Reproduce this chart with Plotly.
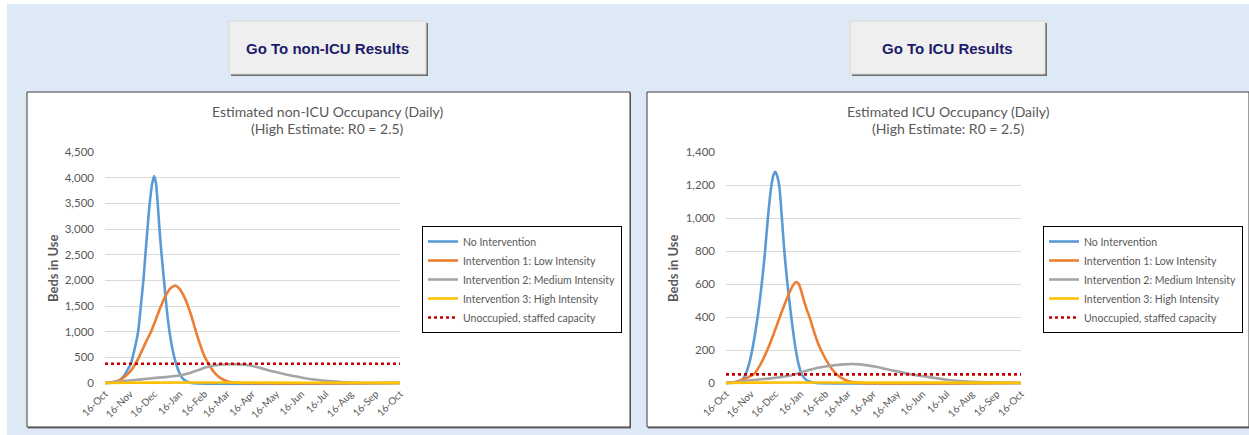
import pandas as pd
import plotly.graph_objects as go

W, H = 1249, 435
START = pd.Timestamp("2020-10-16")
END = pd.Timestamp("2021-10-16")

SERIES_NAMES = [
    "No Intervention",
    "Intervention 1: Low Intensity",
    "Intervention 2: Medium Intensity",
    "Intervention 3: High Intensity",
]
CAPACITY_NAME = "Unoccupied, staffed capacity"
SERIES_COLORS = ["#5B9BD5", "#ED7D31", "#A5A5A5", "#FFC000"]
CAPACITY_COLOR = "#C00000"

# ---- non-ICU occupancy (days after 16-Oct, beds in use) ----
nonicu_none_days = [0, 8, 14, 19, 24, 28, 32, 36, 41, 44, 47.5, 50, 52.5, 55, 58, 60.7, 63, 65, 67.4,
                    70, 73, 76, 79.8, 84, 88, 92, 96, 101, 107, 365]
nonicu_none_beds = [0, 5, 20, 65, 150, 260, 375, 620, 1000, 1450, 2000, 2500, 3000, 3450, 3850, 4030,
                    3900, 3550, 3000, 2500, 2000, 1500, 1000, 620, 375, 200, 90, 30, 0, 0]

nonicu_low_days = [0, 10, 18.6, 25, 31, 36, 41, 46, 51, 57, 62, 68, 74, 80, 86.8, 92, 97, 102, 107,
                   112, 117, 122, 128, 135, 142.5, 153, 167, 365]
nonicu_low_beds = [0, 20, 60, 130, 220, 330, 470, 640, 810, 1000, 1200, 1450, 1670, 1830, 1900, 1840,
                   1710, 1530, 1300, 1030, 780, 560, 375, 210, 100, 25, 0, 0]

nonicu_med_days = [0, 15, 30, 45, 60, 75, 92, 105, 115, 124, 135, 145, 155, 165, 175, 185, 195, 204,
                   215, 225, 235, 246, 256, 266, 277, 287, 300, 315, 335, 365]
nonicu_med_beds = [0, 30, 50, 70, 95, 115, 145, 195, 250, 300, 340, 360, 365, 362, 350, 320, 280, 240,
                   200, 162, 130, 97, 72, 52, 37, 26, 14, 6, 2, 0]

nonicu_high_days = [0, 30, 90, 150, 250, 365]
nonicu_high_beds = [0, 5, 10, 10, 5, 2]

nonicu_capacity = 375

# ---- ICU occupancy (days after 16-Oct, beds in use) ----
icu_none_days = [0, 10, 20, 24, 28, 32, 36, 40, 44, 48, 52, 56, 59, 61, 63, 66, 69, 72, 76, 81, 86,
                 90, 94, 99, 104, 112, 365]
icu_none_beds = [0, 3, 20, 50, 105, 190, 300, 430, 590, 780, 1010, 1190, 1265, 1280, 1260, 1190, 1010,
                 810, 600, 390, 210, 110, 50, 20, 7, 0, 0]

icu_low_days = [0, 10, 20, 34, 40, 46, 52, 58, 64, 70, 76, 81, 84, 87, 90, 93, 96, 100, 104, 109, 114,
                119, 125, 131, 137, 144, 152, 166, 365]
icu_low_beds = [0, 5, 20, 52, 90, 145, 210, 285, 365, 445, 520, 575, 600, 612, 600, 560, 505, 445, 390,
                310, 240, 185, 130, 85, 52, 28, 10, 0, 0]

icu_med_days = [0, 15, 30, 55, 80, 104, 125, 146, 156, 166, 187, 207, 232, 253, 273, 294, 323, 345, 365]
icu_med_beds = [0, 8, 16, 28, 46, 81, 101, 113, 115, 113, 97, 75, 50, 34, 20, 10, 4, 1, 0]

icu_high_days = [0, 30, 90, 150, 250, 365]
icu_high_beds = [0, 2, 3, 3, 2, 1]

icu_capacity = 52

nonicu_y_ticks = [0, 500, 1000, 1500, 2000, 2500, 3000, 3500, 4000, 4500]
icu_y_ticks = [0, 200, 400, 600, 800, 1000, 1200, 1400]

TEXT_GRAY = "#595959"
FONT = "Lato"


def px_x(x):
    return x / W


def px_y(y):
    return 1 - y / H


def to_dates(days):
    return START + pd.to_timedelta(days, unit="D")


fig = go.Figure()

charts = [
    dict(xaxis="x", yaxis="y", legend="legend",
         series=[(nonicu_none_days, nonicu_none_beds), (nonicu_low_days, nonicu_low_beds),
                 (nonicu_med_days, nonicu_med_beds), (nonicu_high_days, nonicu_high_beds)],
         capacity=nonicu_capacity),
    dict(xaxis="x2", yaxis="y2", legend="legend2",
         series=[(icu_none_days, icu_none_beds), (icu_low_days, icu_low_beds),
                 (icu_med_days, icu_med_beds), (icu_high_days, icu_high_beds)],
         capacity=icu_capacity),
]

for ch in charts:
    for si, (days, beds) in enumerate(ch["series"]):
        fig.add_trace(go.Scatter(
            x=to_dates(days), y=beds, mode="lines", name=SERIES_NAMES[si],
            line=dict(color=SERIES_COLORS[si], width=2.6, shape="spline", smoothing=0.6),
            xaxis=ch["xaxis"], yaxis=ch["yaxis"], legend=ch["legend"], hoverinfo="skip",
        ))
    fig.add_trace(go.Scatter(
        x=[START, END], y=[ch["capacity"], ch["capacity"]], mode="lines", name=CAPACITY_NAME,
        line=dict(color=CAPACITY_COLOR, width=2.6, dash="dot"),
        xaxis=ch["xaxis"], yaxis=ch["yaxis"], legend=ch["legend"], hoverinfo="skip",
    ))

# Panel geometry in pixels
plot_left = [105, 726]
plot_w = 295
y_zero_px = 383
y_top_px = 152
y_ranges = [(4500, nonicu_y_ticks), (1400, icu_y_ticks)]

shapes = [
    # page background
    dict(type="rect", xref="paper", yref="paper", x0=px_x(7), x1=px_x(W), y0=px_y(4), y1=px_y(H),
         fillcolor="#DDE9F5", line=dict(width=0), layer="below"),
]

# chart frames
for x0, x1 in [(27, 630), (647, 1249)]:
    shapes.append(dict(type="rect", xref="paper", yref="paper", x0=px_x(x0 + 1), x1=px_x(min(x1 + 1, W)),
                       y0=px_y(93), y1=px_y(428.5), fillcolor="#6F6F6F", line=dict(width=0), layer="below"))
    shapes.append(dict(type="rect", xref="paper", yref="paper", x0=px_x(x0), x1=px_x(x1),
                       y0=px_y(92), y1=px_y(427), fillcolor="#FFFFFF",
                       line=dict(color="#3A3A3A", width=1), layer="below"))

# buttons
buttons = [((229, 426), "Go To non-ICU Results"), ((850, 1045), "Go To ICU Results")]
annotations = []
for (bx0, bx1), label in buttons:
    shapes.append(dict(type="rect", xref="paper", yref="paper", x0=px_x(bx0 + 2), x1=px_x(bx1 + 2),
                       y0=px_y(23), y1=px_y(76), fillcolor="#6E6E6E", line=dict(width=0), layer="below"))
    shapes.append(dict(type="rect", xref="paper", yref="paper", x0=px_x(bx0), x1=px_x(bx1),
                       y0=px_y(21), y1=px_y(74), fillcolor="#F0EFEF",
                       line=dict(color="#D8D8D8", width=1), layer="below"))
    annotations.append(dict(x=px_x((bx0 + bx1) / 2), y=px_y(48), xref="paper", yref="paper",
                            text=f"<b>{label}</b>", showarrow=False, xanchor="center", yanchor="middle",
                            font=dict(family="Liberation Sans, Arial", size=15, color="#1C1C6B")))

titles = [("Estimated non-ICU Occupancy (Daily)", 327), ("Estimated ICU Occupancy (Daily)", 948)]
for text, cx in titles:
    annotations.append(dict(x=px_x(cx), y=px_y(111), xref="paper", yref="paper", text=text,
                            showarrow=False, xanchor="center", yanchor="middle",
                            font=dict(family=FONT, size=14, color=TEXT_GRAY)))
    annotations.append(dict(x=px_x(cx), y=px_y(129), xref="paper", yref="paper",
                            text="(High Estimate: R0 = 2.5)",
                            showarrow=False, xanchor="center", yanchor="middle",
                            font=dict(family=FONT, size=14, color=TEXT_GRAY)))

for cx in [53, 673]:
    annotations.append(dict(x=px_x(cx), y=px_y(268), xref="paper", yref="paper", text="<b>Beds in Use</b>",
                            showarrow=False, textangle=-90, xanchor="center", yanchor="middle",
                            font=dict(family=FONT, size=13, color=TEXT_GRAY)))

layout = dict(
    width=W, height=H, autosize=False,
    margin=dict(l=0, r=0, t=0, b=0, pad=0, autoexpand=False),
    paper_bgcolor="#FFFFFF", plot_bgcolor="rgba(0,0,0,0)",
    shapes=shapes, annotations=annotations, showlegend=True,
    font=dict(family=FONT, color=TEXT_GRAY),
)

for i in range(2):
    ymax, yticks = y_ranges[i]
    per_px = ymax / (y_zero_px - y_top_px)
    pad = 2.2 * per_px
    xa = dict(
        domain=[px_x(plot_left[i]), px_x(plot_left[i] + plot_w)],
        range=[START, END], type="date", tick0=START, dtick="M1", tickformat="%d-%b",
        tickangle=-45, showgrid=False, showline=False, zeroline=False, ticks="",
        tickfont=dict(family=FONT, size=10, color=TEXT_GRAY), automargin=False,
        anchor="y" if i == 0 else "y2", fixedrange=True,
    )
    ya = dict(
        domain=[px_y(y_zero_px + 2.2), px_y(y_top_px)],
        range=[-pad, ymax], tickvals=yticks, tickformat=",d",
        showgrid=True, gridcolor="#D9D9D9", gridwidth=1,
        zeroline=True, zerolinecolor="#D9D9D9", zerolinewidth=1,
        showline=False, ticks="", ticklabelstandoff=10, automargin=False,
        tickfont=dict(family=FONT, size=11.5, color=TEXT_GRAY),
        anchor="x" if i == 0 else "x2", fixedrange=True,
    )
    layout["xaxis" if i == 0 else "xaxis2"] = xa
    layout["yaxis" if i == 0 else "yaxis2"] = ya

legend_common = dict(
    xanchor="left", yanchor="top", bgcolor="#FFFFFF", bordercolor="#000000", borderwidth=1,
    font=dict(family=FONT, size=10.5, color=TEXT_GRAY), tracegroupgap=0,
    itemclick=False, itemdoubleclick=False,
)
layout["legend"] = dict(legend_common, x=px_x(422), y=px_y(226))
layout["legend2"] = dict(legend_common, x=px_x(1043), y=px_y(226))

fig.update_layout(**layout)
fig.write_html("out.html")
